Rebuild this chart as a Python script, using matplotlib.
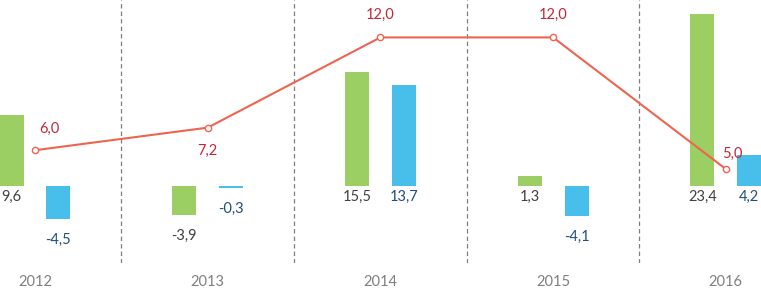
import matplotlib
matplotlib.use("Agg")
import matplotlib.pyplot as plt
import numpy as np

years = ["2012", "2013", "2014", "2015", "2016"]
green_values = [9.6, -3.9, 15.5, 1.3, 23.4]
blue_values = [-4.5, -0.3, 13.7, -4.1, 4.2]
line_values = [6.0, 7.2, 12.0, 12.0, 5.0]

GREEN = "#9BCF63"
BLUE = "#47BFEA"
RED = "#EE6450"
RED_TEXT = "#C0283A"
GREEN_TEXT = "#404040"
BLUE_TEXT = "#1F4E79"
GRAY = "#7F7F7F"

# label offsets (points) for the line values
line_label_offsets = [(10, 15), (0, -17), (0, 16), (0, 16), (5, 11)]


def fmt(v: float) -> str:
    return f"{v:.1f}".replace(".", ",")


def main() -> None:
    plt.rcParams["font.family"] = ["Lato", "DejaVu Sans"]
    fig = plt.figure(figsize=(7.61, 2.89), dpi=100)
    ax = fig.add_axes([0, 1 - 263 / 289, 1, 263 / 289])
    ax2 = ax.twinx()

    x = np.arange(len(years))
    width = 0.139
    offset = 0.136
    ax.bar(x - offset, green_values, width, color=GREEN, zorder=2)
    ax.bar(x + offset, blue_values, width, color=BLUE, zorder=2)

    for xs, vals, color in ((x - offset, green_values, GREEN_TEXT), (x + offset, blue_values, BLUE_TEXT)):
        for xi, v in zip(xs, vals):
            base = min(0.0, v)
            dy = -8 if v >= 0 else -15
            ax.annotate(fmt(v), (xi, base), xytext=(0, dy), textcoords="offset points",
                        ha="center", va="center", fontsize=10.5, color=color)

    for b in x[:-1] + 0.5:
        ax.axvline(b, color=GRAY, lw=0.9, ls=(0, (3.5, 2.5)), zorder=1)

    ax.set_xlim(-0.2027, 4.204)
    ax.set_ylim(-10.45, 25.24)
    ax.set_xticks(x)
    ax.set_xticklabels(years, fontsize=10.5, color=GRAY)
    ax.tick_params(axis="x", length=0, pad=9)
    ax.set_yticks([])
    for spine in ax.spines.values():
        spine.set_visible(False)

    ax2.plot(x, line_values, color=RED, lw=1.5, marker="o", ms=4.5,
             mfc="white", mec=RED, mew=1.0, zorder=3)
    for xi, v, off in zip(x, line_values, line_label_offsets):
        ax2.annotate(fmt(v), (xi, v), xytext=off, textcoords="offset points",
                     ha="center", va="center", fontsize=10.5, color=RED_TEXT)
    ax2.set_ylim(0, 13.99)
    ax2.set_yticks([])
    for spine in ax2.spines.values():
        spine.set_visible(False)

    fig.savefig("out.png", dpi=100)
    plt.close(fig)


if __name__ == "__main__":
    main()
